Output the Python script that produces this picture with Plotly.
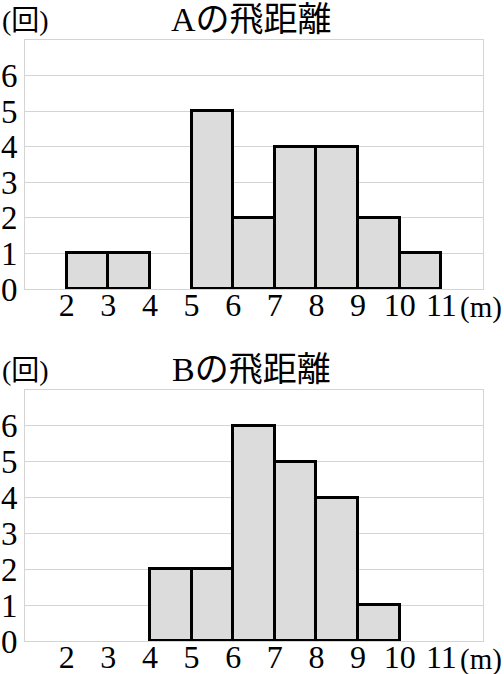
import plotly.graph_objects as go

# bin edges (m) and counts
bin_left = [2, 3, 4, 5, 6, 7, 8, 9, 10]
counts_a = [1, 1, 0, 5, 2, 4, 4, 2, 1]
counts_b = [0, 0, 2, 2, 6, 5, 4, 1, 0]
x_ticks = [2, 3, 4, 5, 6, 7, 8, 9, 10, 11]
y_ticks = [0, 1, 2, 3, 4, 5, 6]
titles = ["Aの飛距離", "Bの飛距離"]

W, H = 504, 674
serif = "Liberation Serif, Noto Sans CJK JP, serif"
grid_col = "#d4d4d4"

# pixel boxes of the two plot areas (left, top, right, bottom)
boxes = [(25, 40, 483, 289), (25, 390, 483, 641)]

fig = go.Figure()

for i, (counts, box) in enumerate(zip([counts_a, counts_b], boxes)):
    sfx = "" if i == 0 else str(i + 1)
    xs = [b + 0.5 for b, c in zip(bin_left, counts) if c > 0]
    ys = [c for c in counts if c > 0]
    fig.add_trace(go.Bar(
        x=xs, y=ys, width=1,
        marker=dict(color="#dcdcdc", line=dict(color="black", width=3)),
        xaxis="x" + sfx, yaxis="y" + sfx, showlegend=False,
    ))
    l, t, r, b = box
    fig.update_layout(**{
        "xaxis" + sfx: dict(
            domain=[l / W, r / W], range=[1, 12], anchor="y" + sfx,
            tickvals=x_ticks, ticktext=[str(v) for v in x_ticks],
            showgrid=False, zeroline=False, automargin=False,
            showline=True, linecolor=grid_col, linewidth=1, mirror=True,
            ticks="", ticklabelstandoff=-12,
            tickfont=dict(family=serif, size=32, color="black"),
        ),
        "yaxis" + sfx: dict(
            domain=[1 - b / H, 1 - t / H], range=[0, 7], anchor="x" + sfx,
            tickvals=y_ticks, showgrid=True, gridcolor=grid_col, gridwidth=1,
            zeroline=False, showline=True, linecolor=grid_col, linewidth=1,
            mirror=True, ticks="", automargin=False,
            tickfont=dict(family=serif, size=33, color="black"),
        ),
    })
    fig.add_annotation(
        text=titles[i], x=(l + r) / 2 / W - 0.005, y=1 - (t - 21) / H,
        xref="paper", yref="paper", showarrow=False,
        xanchor="center", yanchor="middle",
        font=dict(family=serif, size=34, color="black"),
    )
    fig.add_annotation(
        text="(回)", x=0, y=1 - (t - 20) / H,
        xref="paper", yref="paper", showarrow=False,
        xanchor="left", yanchor="middle",
        font=dict(family=serif, size=28, color="black"),
    )
    fig.add_annotation(
        text="(m)", x=1, y=1 - (b + 18) / H,
        xref="paper", yref="paper", showarrow=False,
        xanchor="right", yanchor="middle",
        font=dict(family=serif, size=29, color="black"),
    )

fig.update_layout(
    width=W, height=H,
    margin=dict(l=0, r=0, t=0, b=0),
    plot_bgcolor="white", paper_bgcolor="white",
    bargap=0,
)

fig.write_html(
    "out.html",
    config={"displayModeBar": False},
    post_script="document.body.style.margin='0';document.body.style.overflow='hidden';",
)
